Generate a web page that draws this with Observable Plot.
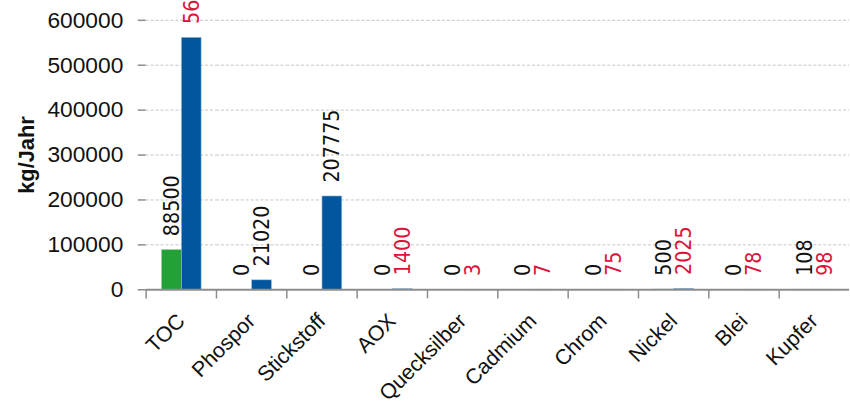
<!DOCTYPE html>
<html>
<head>
<meta charset="utf-8">
<script src="https://cdn.jsdelivr.net/npm/d3@7"></script>
<script src="https://cdn.jsdelivr.net/npm/@observablehq/plot@0.6"></script>
<style>
  html, body { margin: 0; padding: 0; background: #fff; overflow: hidden; }
  #chart svg { display: block; }
</style>
</head>
<body>
<div id="chart"></div>
<script>
// Jahresfrachten je Parameter, zwei Reihen nebeneinander
const categories = ["TOC", "Phospor", "Stickstoff", "AOX", "Quecksilber", "Cadmium", "Chrom", "Nickel", "Blei", "Kupfer"];
const seriesNames = ["Reihe 1", "Reihe 2"];
const series1 = [88500, 0, 0, 0, 0, 0, 0, 500, 0, 108];
const series2 = [561000, 21020, 207775, 1400, 3, 7, 75, 2025, 78, 98];
// Parameter, deren Wert der zweiten Reihe rot beschriftet ist
const flagged = ["TOC", "AOX", "Quecksilber", "Cadmium", "Chrom", "Nickel", "Blei", "Kupfer"];
const yTicks = [0, 100000, 200000, 300000, 400000, 500000, 600000];
const yLabel = "kg/Jahr";

const rows = categories.flatMap((c, i) => [
  {category: c, series: seriesNames[0], value: series1[i], flagged: false},
  {category: c, series: seriesNames[1], value: series2[i], flagged: flagged.includes(c)}
]);

const green = "#22a136";
const blue = "#02569e";
const red = "#dc1238";
const axisGray = "#8c8c8c";
const narrow = "'Liberation Sans Narrow', 'Arial Narrow', 'DejaVu Sans Condensed', sans-serif";

const labelOpts = {
  fx: "category", x: "series", y: "value",
  text: d => String(d.value),
  rotate: -90, textAnchor: "start", lineAnchor: "middle",
  dy: -14, fontSize: 21.5, fontFamily: narrow
};

const chart = Plot.plot({
  width: 858,
  height: 408,
  marginLeft: 146,
  marginRight: 0,
  marginTop: 20,
  marginBottom: 116,
  style: {fontFamily: "'Liberation Sans', Arial, sans-serif", fontSize: "22px", color: "#111", background: "#fff"},
  fx: {domain: categories, paddingInner: 0, paddingOuter: 0, label: null, axis: null},
  x: {domain: seriesNames, paddingInner: 0, paddingOuter: 0.754, axis: null},
  y: {domain: [0, 600000], axis: null},
  color: {domain: seriesNames, range: [green, blue]},
  marks: [
    Plot.gridY(yTicks.filter(d => d > 0), {stroke: "#c4c4c4", strokeOpacity: 1, strokeDasharray: "3,2"}),
    Plot.barY(rows, {fx: "category", x: "series", y: "value", fill: "series", stroke: d => d.series === seriesNames[1] ? "#9fc0df" : "#9fd3a6", strokeWidth: 0.6}),
    Plot.ruleY([0], {stroke: axisGray, strokeWidth: 2}),
    Plot.frame({anchor: "left", insetTop: 272, insetBottom: -8, stroke: axisGray, strokeWidth: 1.5}),
    Plot.text(rows.filter(d => !d.flagged), {...labelOpts, fill: "#111"}),
    Plot.text(rows.filter(d => d.flagged), {...labelOpts, fill: red}),
    Plot.axisY(yTicks, {anchor: "left", tickSize: 8, tickPadding: 15, tickFormat: d => String(d), fontSize: 23, letterSpacing: -0.8, stroke: axisGray, strokeWidth: 1.5, fill: "#111", line: true, label: null}),
    Plot.axisFx({anchor: "bottom", tickRotate: -45, tickSize: 0, tickPadding: 28, fontSize: 21.5, fill: "#111", label: null}),
    Plot.text([yLabel], {fx: [categories[0]], frameAnchor: "left", textAnchor: "middle", lineAnchor: "middle", rotate: -90, dx: -120, fontWeight: "bold", fontSize: 22, fill: "#111"})
  ]
});

document.getElementById("chart").appendChild(chart);
</script>
</body>
</html>
